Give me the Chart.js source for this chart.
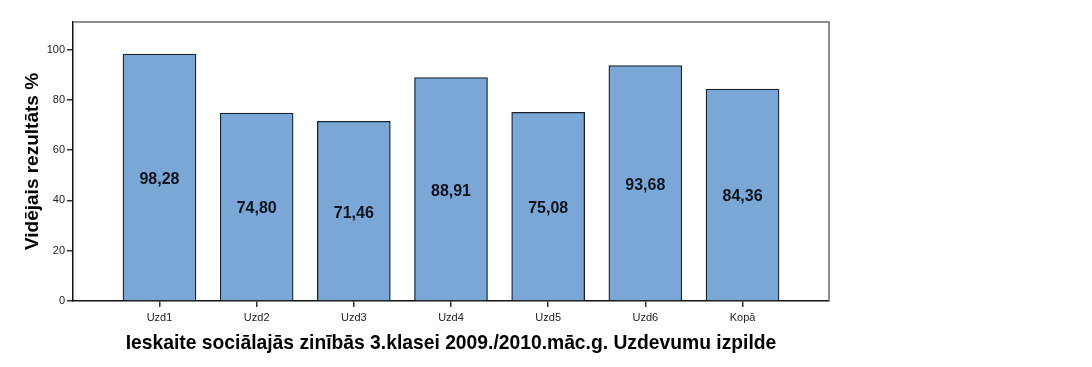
<!DOCTYPE html>
<html>
<head>
<meta charset="utf-8">
<script src="https://cdn.jsdelivr.net/npm/chart.js@4"></script>
<style>
html,body{margin:0;padding:0;background:#fff;}
#wrap{width:1092px;height:367px;position:relative;}
</style>
</head>
<body>
<div id="wrap"><canvas id="c" width="1092" height="367"></canvas></div>
<script>
const categories = ['Uzd1','Uzd2','Uzd3','Uzd4','Uzd5','Uzd6','Kopā'];
const values = [98.28, 74.80, 71.46, 88.91, 75.08, 93.68, 84.36];
const yTicks = [0, 20, 40, 60, 80, 100];
const xTitle = 'Ieskaite sociālajās zinībās 3.klasei 2009./2010.māc.g. Uzdevumu izpilde';
const yTitle = 'Vidējais rezultāts %';

const FONT = "'Liberation Sans', Arial, sans-serif";

const framePlugin = {
  id: 'frame',
  afterDatasetsDraw(chart) {
    const {ctx, chartArea: a} = chart;
    ctx.save();
    ctx.strokeStyle = '#6a6a6a';
    ctx.lineWidth = 1.5;
    ctx.beginPath();
    ctx.moveTo(a.left, a.top);
    ctx.lineTo(a.right, a.top);
    ctx.lineTo(a.right, a.bottom);
    ctx.stroke();
    ctx.restore();
    const meta = chart.getDatasetMeta(0);
    ctx.save();
    ctx.font = 'bold 16px ' + FONT;
    ctx.fillStyle = '#0d1420';
    ctx.textAlign = 'center';
    ctx.textBaseline = 'middle';
    const ys = chart.scales.y;
    meta.data.forEach((bar, i) => {
      const v = values[i];
      const y = ys.getPixelForValue(v / 2);
      ctx.fillText(v.toFixed(2).replace('.', ','), bar.x, y + 2);
    });
    ctx.restore();
  }
};

new Chart(document.getElementById('c'), {
  type: 'bar',
  data: {
    datasets: [{
      data: values.map((v, i) => ({x: i, y: v})),
      backgroundColor: '#7ba7d7',
      borderColor: '#18222c',
      borderWidth: 1.3,
      barThickness: 73
    }]
  },
  options: {
    responsive: false,
    animation: false,
    layout: {padding: {left: 0, top: 22, right: 263, bottom: 0}},
    plugins: {legend: {display: false}, tooltip: {enabled: false}},
    scales: {
      x: {
        type: 'linear',
        offset: false,
        min: -0.89,
        max: 6.89,
        afterBuildTicks(scale) {
          scale.ticks = categories.map((c, i) => ({value: i}));
        },
        afterFit(scale) { scale.height = 66; },
        ticks: {
          callback: (v) => categories[v] !== undefined ? categories[v] : '',
          font: {family: FONT, size: 11},
          color: '#222',
          padding: 4,
          maxRotation: 0,
          autoSkip: false
        },
        grid: {display: true, offset: false, drawOnChartArea: false, drawTicks: true, tickLength: 6, color: '#333', lineWidth: 1.5},
        border: {display: true, color: '#111', width: 1.5},
        title: {display: true, text: xTitle, font: {family: FONT, size: 19.3, weight: 'bold'}, color: '#000', padding: {top: 6, bottom: 12}}
      },
      y: {
        min: 0,
        max: 111,
        afterBuildTicks(scale) {
          scale.ticks = yTicks.map(v => ({value: v}));
        },
        afterFit(scale) { scale.width = 73; },
        ticks: {font: {family: FONT, size: 11}, color: '#222', padding: 2},
        grid: {display: true, drawOnChartArea: false, drawTicks: true, tickLength: 6, color: '#333', lineWidth: 1.5},
        border: {display: true, color: '#111', width: 1.5},
        title: {display: true, text: yTitle, font: {family: FONT, size: 19, weight: 'bold'}, color: '#000', padding: {top: 21, bottom: 0}}
      }
    }
  },
  plugins: [framePlugin]
});
</script>
</body>
</html>
